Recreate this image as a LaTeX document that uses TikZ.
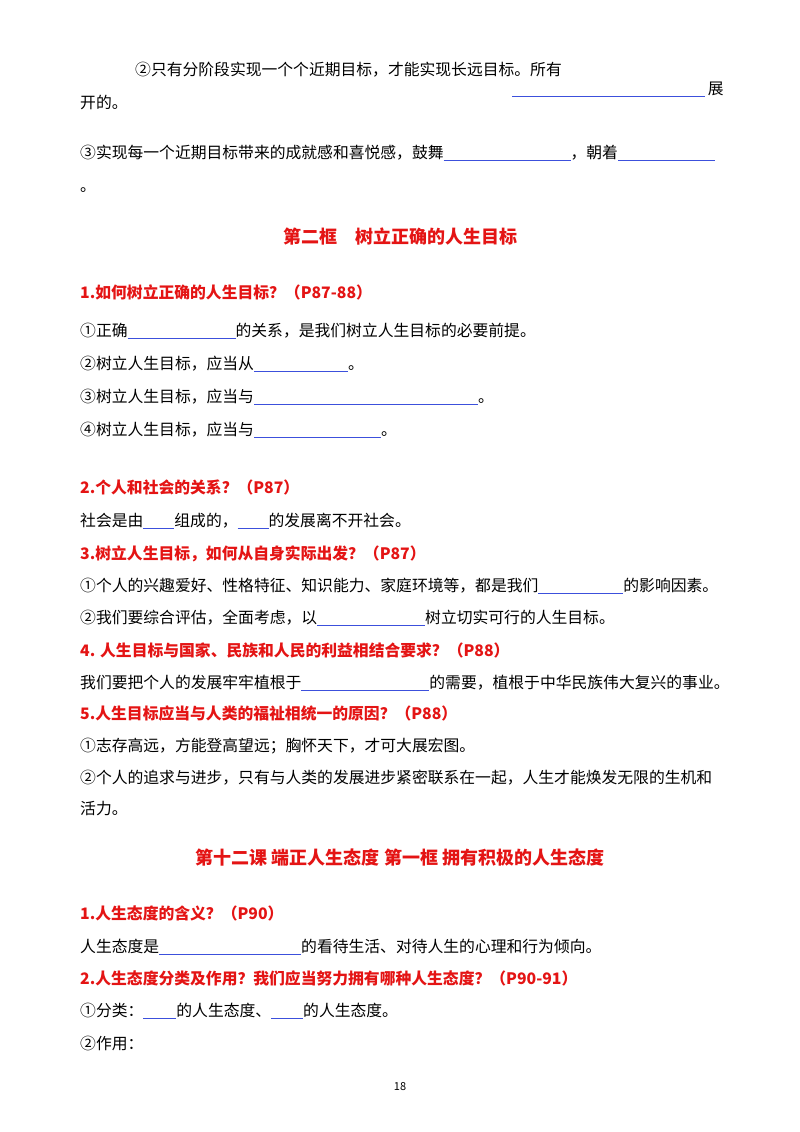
\documentclass[tikz,border=0pt]{standalone}
\usepackage{fontspec}
\setmainfont{Noto Sans CJK SC}
\usetikzlibrary{positioning}
\definecolor{headred}{RGB}{228,20,20}
\definecolor{lineblue}{RGB}{60,80,220}
\newcommand{\blank}[1]{\textcolor{lineblue}{\rule[-3pt]{#1pt}{0.7pt}}}
\tikzset{
  line/.style={anchor=base west,inner sep=0pt,font=\fontsize{15.8}{18}\selectfont},
  head/.style={line,text=headred,font=\fontsize{15.8}{18}\selectfont\bfseries},
  title/.style={anchor=base,inner sep=0pt,text=headred,font=\fontsize{18}{20}\selectfont\bfseries}
}
\begin{document}
\begin{tikzpicture}[x=1pt,y=-1pt]
\useasboundingbox[fill=white] (0,0) rectangle (800,1132);
% 1st block
\node[line] (l1) at (135,76) {②只有分阶段实现一个个近期目标，才能实现长远目标。所有};
\node[line] (l2) at (512,94) {\blank{193}\,展};
\node[line] (l3) at (80,108) {开的。};
\node[line] (l4) at (80,158) {③实现每一个近期目标带来的成就感和喜悦感，鼓舞\blank{127}，朝着\blank{97}};
\node[line] (l5) at (80,191) {。};
% 2nd block
\node[title] (t1) at (400,243) {第二框\quad 树立正确的人生目标};
\node[head] (h1) at (80,298) {1.如何树立正确的人生目标？（P87-88）};
\node[line] (a1) at (80,336) {①正确\blank{108}的关系，是我们树立人生目标的必要前提。};
\node[line] (a2) at (80,369) {②树立人生目标，应当从\blank{94}。};
\node[line] (a3) at (80,402) {③树立人生目标，应当与\blank{224}。};
\node[line] (a4) at (80,435) {④树立人生目标，应当与\blank{127}。};
\node[head] (h2) at (80,493) {2.个人和社会的关系？（P87）};
\node[line] (b1) at (80,526) {社会是由\blank{31}组成的，\blank{31}的发展离不开社会。};
\node[head] (h3) at (80,559) {3.树立人生目标，如何从自身实际出发？（P87）};
\node[line] (c1) at (80,591) {①个人的兴趣爱好、性格特征、知识能力、家庭环境等，都是我们\blank{85}的影响因素。};
\node[line] (c2) at (80,623) {②我们要综合评估，全面考虑，以\blank{108}树立切实可行的人生目标。};
\node[head] (h4) at (80,656) {4. 人生目标与国家、民族和人民的利益相结合要求？（P88）};
\node[line] (d1) at (80,688) {我们要把个人的发展牢牢植根于\blank{128}的需要，植根于中华民族伟大复兴的事业。};
\node[head] (h5) at (80,719) {5.人生目标应当与人类的福祉相统一的原因？（P88）};
\node[line] (e1) at (80,751) {①志存高远，方能登高望远；胸怀天下，才可大展宏图。};
\node[line] (e2) at (80,783) {②个人的追求与进步，只有与人类的发展进步紧密联系在一起，人生才能焕发无限的生机和};
\node[line] (e3) at (80,814) {活力。};
% 3rd block
\node[title] (t2) at (400,864) {第十二课 端正人生态度 第一框 拥有积极的人生态度};
\node[head] (h6) at (80,919) {1.人生态度的含义？（P90）};
\node[line] (f1) at (80,952) {人生态度是\blank{142}的看待生活、对待人生的心理和行为倾向。};
\node[head] (h7) at (80,984) {2.人生态度分类及作用？我们应当努力拥有哪种人生态度？（P90-91）};
\node[line] (g1) at (80,1016) {①分类：\blank{33}的人生态度、\blank{32}的人生态度。};
\node[line] (g2) at (80,1049) {②作用：};
\node[anchor=base,inner sep=0pt,font=\fontsize{11}{13}\selectfont] (pg) at (400,1090) {18};
\end{tikzpicture}
\end{document}
